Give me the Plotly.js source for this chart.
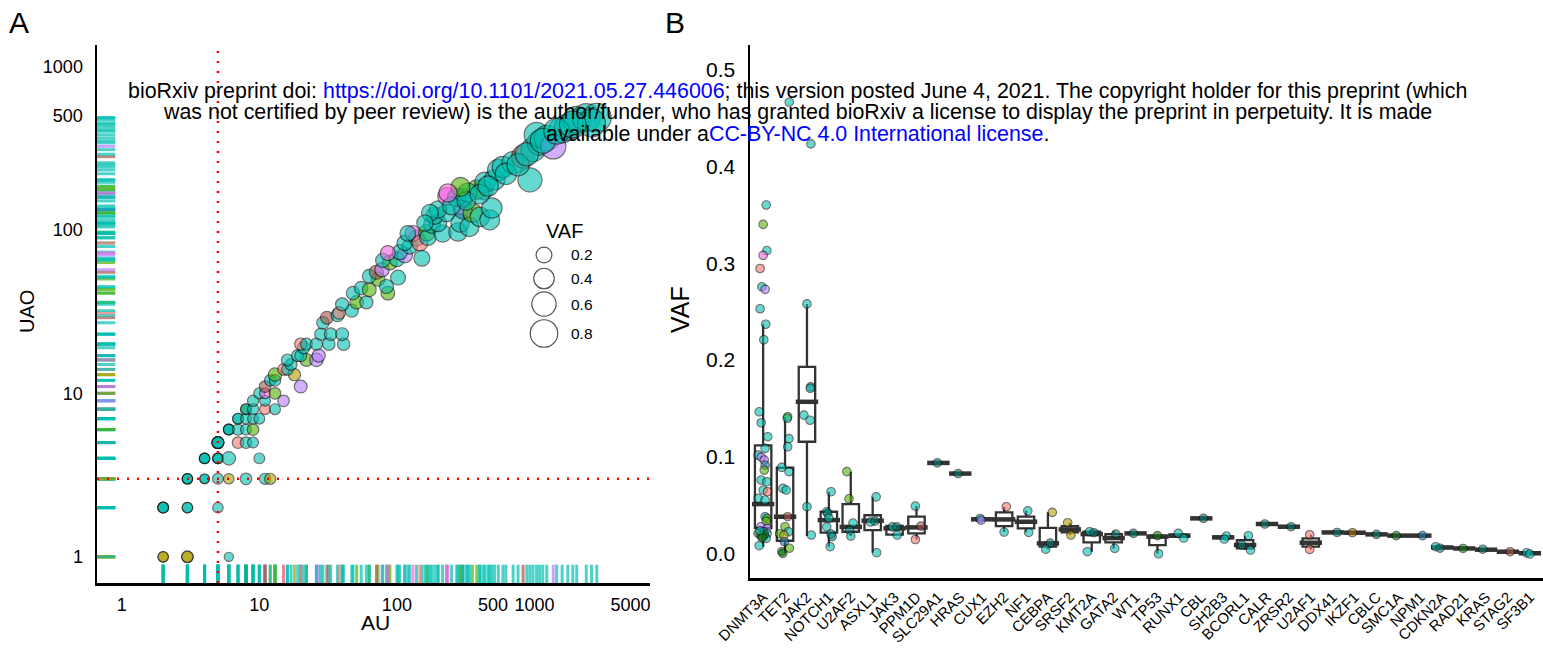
<!DOCTYPE html>
<html><head><meta charset="utf-8">
<script src="https://cdn.plot.ly/plotly-3.0.1.min.js"></script>
<style>html,body{margin:0;padding:0;background:#fff;}#chart{width:1543px;height:651px;}</style>
</head><body><div id="chart"></div>
<script>
// ---------- Panel A data (AU vs UAO, size = VAF) ----------
const auVals = [
 2,2,3,3,6,2,2,2,3,3, 5,3,3,3,4,4,5,6,8,11,
 12,4,4,4,5,5,5,6,10,5, 5,5,5,7,8,9,6,6,6,7,
 8,9,7,7,8,9,10,8,8,9, 11,13,9,11,15,10,11,13,11,20,
 12,13,13,18,15,16,17,16,22,26, 27,19,20,21,20,22,26,32,41,28,
 33,40,29,31,37,38,47,40,51,60, 48,55,63,73,86,84,63,71,78,102,
 89,100,114,105,79,86,124,152,114,139, 131,147,165,168,180,215,199,189,230,199,
 174,230,278,288,337,302,302,272,354,401, 473,490,423,381,327,437,513,546,590,700,
 927,827,976,1090,1037,1230,1370,1590,1750,2030, 2380,2840,2600,250,320,400,460,620,760,880,
 1150,1450,1900,290,235,160,120
];
const uaoVals = [
 1,1,1,1,1,2,2,2,2,2, 2,3,3,3,3,3,3,3,3,3,
 3,4,4,4,4,4,4,4,4,5, 5,5,5,5,5,5,6,6,6,6,
 6,6,7,7,7,7,7,8,8,8, 8,8,9,9,9,10,10,10,11,11,
 12,12,13,13,14,14,15,16,16,16, 17,17,17,19,20,20,20,20,20,23,
 23,23,27,29,30,31,32,35,36,36, 41,44,43,50,41,45,52,55,57,51,
 63,66,70,73,65,72,79,67,83,89, 95,83,96,90,107,95,110,122,127,133,
 127,160,97,110,104,133,157,158,127,120, 115,136,176,176,169,195,202,232,242,257,
 202,280,309,340,381,364,324,409,425,470, 485,485,450,140,150,165,185,220,250,290,
 350,400,440,183,168,110,95
];
const vafA = [
 .06,.06,.1,.08,.03,.07,.07,.07,.06,.06, .06,.06,.06,.06,.04,.04,.07,.06,.09,.08,
 .08,.06,.06,.06,.06,.06,.06,.15,.07,.1, .1,.1,.1,.09,.09,.07,.07,.07,.07,.08,
 .07,.09,.07,.07,.07,.07,.07,.07,.07,.08, .07,.07,.08,.07,.09,.08,.07,.09,.09,.13,
 .09,.09,.15,.11,.09,.09,.1,.1,.13,.15, .14,.11,.1,.11,.11,.1,.11,.12,.12,.11,
 .12,.13,.12,.13,.13,.12,.14,.14,.15,.14, .15,.15,.16,.17,.16,.17,.16,.17,.18,.2,
 .19,.2,.22,.21,.18,.2,.22,.24,.22,.24, .24,.24,.26,.26,.28,.3,.3,.3,.32,.3,
 .28,.32,.35,.35,.38,.36,.36,.34,.38,.4, .42,.44,.42,.4,.38,.44,.46,.5,.5,.55,
 .65,.58,.65,.7,.7,.72,.72,.78,.8,.85, .9,.95,.9,.33,.36,.4,.44,.5,.55,.6,
 .7,.75,.82,.38,.34,.26,.23
];
const colA = [
 'o','o','o','o','t','t','t','t','t','t', 't','t','t','t','t','t','t','o','t','t',
 'o','t','t','t','t','t','t','t','t','t', 't','t','t','s','t','t','t','t','t','t',
 't','g','t','t','t','t','t','dg','t','t', 's','t','t','t','pu','t','p','g','b','pu',
 't','t','g','o','s','t','t','t','g','pu', 'pu','t','t','t','s','t','t','t','t','t',
 't','t','t','b','t','s','t','t','g','t', 't','t','g','g','g','t','t','b','pu','t',
 'g','t','pu','t','t','p','t','t','t','t', 'p','s','g','t','t','t','t','t','t','t',
 't','p','t','t','t','bl','t','t','g','t', 't','t','t','g','t','t','t','t','t','t',
 't','b','t','t','t','t','pu','t','t','t', 't','t','t','t','t','t','t','t','t','t',
 't','t','t','g','p','t','t'
];
const xTicksA = [1,10,100,500,1000,5000];
const yTicksA = [1,10,100,500,1000];
const legendVAF = [0.2,0.4,0.6,0.8];
const auCut = 5, uaoCut = 3;

// ---------- Panel B data (VAF per gene) ----------
const genes = ['DNMT3A','TET2','JAK2','NOTCH1','U2AF2','ASXL1','JAK3','PPM1D','SLC29A1','HRAS','CUX1','EZH2','NF1','CEBPA','SRSF2','KMT2A','GATA2','WT1','TP53','RUNX1','CBL','SH2B3','BCORL1','CALR','ZRSR2','U2AF1','DDX41','IKZF1','CBLC','SMC1A','NPM1','CDKN2A','RAD21','KRAS','STAG2','SF3B1'];
const boxQ1  = [0.027,0.0137,0.1158,0.022,0.023,0.0247,0.020,0.0213,0.094,0.083,0.0352,0.0289,0.0265,0.0076,0.0223,0.012,0.012,0.0213,0.0093,0.0177,0.0368,0.0165,0.0058,0.031,0.0282,0.0076,0.0223,0.022,0.0203,0.019,0.019,0.0062,0.0058,0.0045,0.0024,0.0005];
const boxMed = [0.0515,0.0385,0.157,0.035,0.028,0.0344,0.0265,0.0275,0.094,0.083,0.0358,0.0357,0.0333,0.011,0.0254,0.0206,0.0165,0.0213,0.018,0.019,0.0368,0.0172,0.0093,0.031,0.0282,0.0117,0.0223,0.022,0.0203,0.019,0.019,0.0068,0.0058,0.0045,0.0024,0.0008];
const boxQ3  = [0.112,0.089,0.193,0.0436,0.0515,0.040,0.029,0.0385,0.094,0.083,0.0364,0.043,0.0385,0.027,0.0289,0.023,0.0206,0.0213,0.0189,0.0201,0.0368,0.018,0.0144,0.031,0.0282,0.0162,0.0223,0.022,0.0203,0.019,0.019,0.0072,0.0058,0.0045,0.0024,0.0011];
const boxLo  = [0.0075,0.0007,0.0186,0.0076,0.0186,0.0014,0.0186,0.015,0.094,0.083,0.035,0.0227,0.0223,0.005,0.02,0.0024,0.0058,0.0213,0.0003,0.0165,0.0368,0.0155,0.0041,0.031,0.0282,0.0048,0.0223,0.022,0.0203,0.019,0.019,0.006,0.0058,0.0045,0.0024,0.0];
const boxHi  = [0.237,0.1416,0.258,0.0643,0.085,0.059,0.030,0.0495,0.094,0.083,0.0367,0.0488,0.0446,0.043,0.0323,0.023,0.0237,0.0213,0.019,0.0213,0.0368,0.0186,0.0189,0.031,0.0282,0.0199,0.0223,0.022,0.0203,0.019,0.019,0.0076,0.0058,0.0045,0.0024,0.0013];
const yTicksB = [0,0.1,0.2,0.3,0.4,0.5];

const ptGene = [
 0,0,0,0,0,0,0,0,0,0, 0,0,0,0,0,0,0,0,0,0, 0,0,0,0,0,0,0,0,0,0, 0,0,0,0,0,0,0,0,0,0,
 1,1,1,1,1,1,1,1,1,1, 1,1,1,1,1,1,1,1,
 2,2,2,2,2,2,2,2,
 3,3,3,3,3,3,3,3,
 4,4,4,4,4, 5,5,5,5, 6,6,6, 7,7,7, 8, 9, 10,10, 11,11, 12,12, 13,13,13, 14,14,
 15,15,15, 16,16, 17, 18,18, 19,19, 20, 21,21, 22,22,22, 23, 24, 25,25, 26, 27, 28, 29, 30,
 31,31, 32, 33, 34, 35,35
];
const ptVAF = [
 0.36,0.34,0.313,0.308,0.2945,0.2756,0.273,0.253,0.237,0.221,
 0.1467,0.1354,0.121,0.109,0.102,0.100,0.097,0.0917,0.0866,0.0763,
 0.0746,0.066,0.0643,0.0574,0.0557,0.0385,0.0368,0.034,0.0282,0.0265,
 0.023,0.0213,0.021,0.0186,0.018,0.0162,0.0086,0.020,0.017,0.024,
 0.466,0.1416,0.14,0.119,0.1106,0.0894,0.085,0.0677,0.066,0.0385,
 0.0282,0.023,0.021,0.0196,0.0127,0.0024,0.006,0.0007,
 0.423,0.258,0.1725,0.171,0.1433,0.138,0.0488,0.0196,
 0.0643,0.0436,0.042,0.037,0.028,0.0206,0.018,0.0076,
 0.085,0.057,0.032,0.0247,0.0186, 0.059,0.033,0.034,0.0014, 0.028,0.028,0.0196, 0.0495,0.0289,0.015,
 0.094, 0.083, 0.0367,0.035, 0.0488,0.0227, 0.0446,0.0223, 0.043,0.0113,0.005, 0.0323,0.0196,
 0.023,0.022,0.0024, 0.0206,0.0058, 0.0213, 0.019,0.0003, 0.0213,0.0165, 0.0368, 0.0186,0.0155,
 0.0189,0.0093,0.0041, 0.031, 0.0282, 0.0199,0.0048, 0.0223, 0.022, 0.0203, 0.019, 0.019,
 0.0076,0.006, 0.0058, 0.005, 0.0024, 0.0013,0.0
];
const ptJit = [
 0.14,0.0,0.17,0.0,-0.14,-0.06,0.09,-0.14,0.12,0.03,
 -0.18,-0.09,0.21,0.09,-0.23,-0.09,0.05,0.09,0.05,-0.09,
 0.17,0.0,0.2,-0.23,0.09,0.09,0.17,0.14,-0.1,0.18,
 0.03,-0.23,0.18,-0.09,0.0,0.14,-0.18,0.05,-0.05,-0.15,
 0.19,0.12,0.1,0.18,0.12,-0.15,0.18,-0.1,0.05,0.12,
 0.0,0.15,-0.25,-0.05,-0.03,-0.15,0.2,-0.1,
 0.18,0.0,0.17,0.15,-0.14,0.14,0.0,0.2,
 0.1,-0.1,-0.05,0.0,-0.1,0.1,0.15,0.06,
 -0.18,-0.08,0.1,-0.05,0.0, 0.16,-0.1,0.1,0.18, -0.1,0.1,0.12, -0.05,0.2,-0.05,
 -0.05, -0.1, -0.1,-0.05, 0.1,0.0, 0.08,0.12, 0.2,0.1,-0.1, -0.1,0.05,
 -0.1,0.1,-0.2, 0.1,0.05, -0.1, 0.0,0.05, -0.05,0.2, 0.1, 0.15,0.05,
 0.15,-0.15,0.25, -0.1, 0.1, -0.05,-0.05, 0.2, -0.1, 0.0, -0.1, 0.1,
 -0.3,-0.1, -0.05, -0.15, 0.1, -0.15,0.0
];
const ptCol = [
 't','g','t','p','s','t','pu','t','t','t',
 't','t','t','t','t','pu','pu','bl','g','t',
 't','t','s','t','t','t','g','g','pu','pu',
 't','dg','t','g','pu','t','t','dg','dg','t',
 't','g','t','t','t','t','t','t','t','b',
 'g','t','g','o','bl','dg','g','dg',
 't','t','dt','t','t','t','t','t',
 't','t','dt','t','t','t','dt','t',
 'g','g','t','dt','t', 't','t','dt','t', 't','dt','t', 't','b','s',
 'dt', 'dt', 't','pu', 's','t', 't','t', 'o','dt','t', 'o','o',
 't','dt','t', 'dt','t', 'dt', 'dg','t', 't','t', 'dt', 't','t',
 't','dt','t', 'dt', 'dt', 's','s', 'dt', 'ob', 'dt', 'dg', 'bl',
 't','dt', 'dg', 'dt', 'b', 't','t'
];

// ---------- styling ----------
const pal = {t:'#00BFB0',dt:'#007A70',g:'#53B400',dg:'#0A7A10',p:'#F564E3',pu:'#B77CFF',s:'#F8766D',o:'#B0A000',b:'#A65448',bl:'#1F78B4',ob:'#A86E00'};
const rgba = (hex,a)=>{const n=parseInt(hex.slice(1),16);return `rgba(${n>>16},${(n>>8)&255},${n&255},${a})`;};
const sz = v => Math.sqrt(60 + 800*v);
const W = 1543, H = 651;
const P = px => px/W, Q = py => 1 - py/H;
const FONT = 'Liberation Sans, Arial, Helvetica, sans-serif';

const traces = [];
traces.push({
  type:'scatter', mode:'markers', x:auVals, y:uaoVals, xaxis:'x', yaxis:'y',
  marker:{size:vafA.map(sz), color:colA.map(c=>pal[c]), opacity:0.6, line:{color:'#111', width:1.2}},
  hoverinfo:'x+y', showlegend:false
});
const idx = genes.map((g,i)=>i);
traces.push({
  type:'box', x:idx, q1:boxQ1, median:boxMed, q3:boxQ3, lowerfence:boxLo, upperfence:boxHi,
  xaxis:'x2', yaxis:'y2', width:0.75, boxpoints:false, whiskerwidth:0,
  line:{color:'#333333', width:2.3}, fillcolor:'rgba(255,255,255,0)', showlegend:false, hoverinfo:'skip'
});
traces.push({
  type:'scatter', mode:'markers', x:idx, y:boxMed, xaxis:'x2', yaxis:'y2',
  marker:{symbol:'line-ew', size:16, color:'#333333', line:{color:'#333333', width:4.5}},
  showlegend:false, hoverinfo:'skip'
});
traces.push({
  type:'scatter', mode:'markers', x:ptGene.map((g,i)=>g+ptJit[i]), y:ptVAF, xaxis:'x2', yaxis:'y2',
  marker:{size:8.5, color:ptCol.map(c=>pal[c]), opacity:0.6, line:{color:'#111', width:1.1}},
  showlegend:false, hoverinfo:'y'
});

const shapes = [];
// rugs
auVals.forEach((v,i)=>shapes.push({type:'line', xref:'x', yref:'y domain', x0:v, x1:v, y0:0, y1:0.034,
  line:{color:rgba(pal[colA[i]],0.7), width:3}}));
uaoVals.forEach((v,i)=>shapes.push({type:'line', xref:'x domain', yref:'y', x0:0, x1:0.033, y0:v, y1:v,
  line:{color:rgba(pal[colA[i]],0.7), width:3}}));
// cut-off lines
shapes.push({type:'line', xref:'x', yref:'y domain', x0:auCut, x1:auCut, y0:0, y1:0.995, line:{color:'#FF0000', width:2.5, dash:'2px,8px'}});
shapes.push({type:'line', xref:'x domain', yref:'y', x0:0, x1:1, y0:uaoCut, y1:uaoCut, line:{color:'#FF0000', width:2.5, dash:'2px,8px'}});
// size legend circles
const legY = [255,278.5,304,333.5];
legendVAF.forEach((v,i)=>{const r=sz(v)/2+0.5; shapes.push({type:'circle', xref:'paper', yref:'paper', xsizemode:'pixel', ysizemode:'pixel',
  xanchor:P(544), yanchor:Q(legY[i]), x0:-r, x1:r, y0:-r, y1:r, line:{color:'#555', width:1.2}, fillcolor:'rgba(0,0,0,0)'});});

const ann = [];
const A = (px,py,text,size,opt={}) => ann.push(Object.assign({xref:'paper', yref:'paper', x:P(px), y:Q(py), text, showarrow:false,
  font:{family:FONT, size, color:'#000'}, xanchor:'center', yanchor:'middle'}, opt));
A(19,22,'A',30); A(675,22,'B',30);
A(27,312,'UAO',20,{textangle:-90}); A(375,622,'AU',21);
A(680,310,'VAF',25,{textangle:-90});
A(544,231,'VAF',20,{xanchor:'left'});
legendVAF.forEach((v,i)=>A(569,legY[i],v.toFixed(1),15.5,{xanchor:'left'}));
const blue = s => `<span style="color:#0000FF">${s}</span>`;
A(797,91,'bioRxiv preprint doi: '+blue('https://doi.org/10.1101/2021.05.27.446006')+'; this version posted June 4, 2021. The copyright holder for this preprint (which',21.4);
A(797,112.5,'was not certified by peer review) is the author/funder, who has granted bioRxiv a license to display the preprint in perpetuity. It is made',21.4);
A(797,134,'available under a'+blue('CC-BY-NC 4.0 International license')+'.',21.4);

const axBase = {showgrid:false, zeroline:false, showline:true, linecolor:'#000', linewidth:2.5, ticks:'', mirror:false};
const layout = {
  width:W, height:H, margin:{l:0,r:0,t:0,b:0}, paper_bgcolor:'#fff', plot_bgcolor:'rgba(0,0,0,0)',
  font:{family:FONT, color:'#000'}, showlegend:false,
  xaxis:Object.assign({}, axBase, {type:'log', domain:[P(97),P(650)], range:[-0.18,3.84], anchor:'y',
     tickvals:xTicksA, ticktext:xTicksA.map(String), tickfont:{size:18, color:'#000'}, ticklabelstandoff:4}),
  yaxis:Object.assign({}, axBase, {type:'log', domain:[Q(583),Q(45)], range:[-0.16,3.13], anchor:'x',
     tickvals:yTicksA, ticktext:yTicksA.map(String), tickfont:{size:18, color:'#000'}, ticklabelstandoff:8}),
  xaxis2:Object.assign({}, axBase, {domain:[P(750),1], range:[-0.6,35.6], anchor:'y2',
     tickvals:idx, ticktext:genes, tickangle:-45, tickfont:{size:15, color:'#000'}, ticklabelstandoff:2}),
  yaxis2:Object.assign({}, axBase, {domain:[Q(578),Q(45)], range:[-0.0247,0.525], anchor:'x2',
     tickvals:yTicksB, ticktext:yTicksB.map(v=>v.toFixed(1)), tickfont:{size:21, color:'#000'}, ticklabelstandoff:8}),
  shapes, annotations:ann
};
Plotly.newPlot('chart', traces, layout, {displayModeBar:false, staticPlot:true});
</script></body></html>
